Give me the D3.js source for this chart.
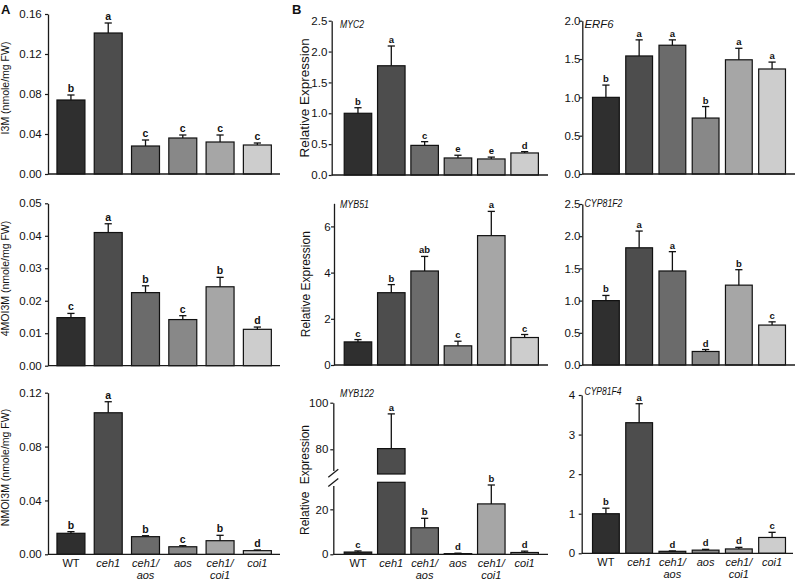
<!DOCTYPE html>
<html><head><meta charset="utf-8">
<script src="https://cdn.jsdelivr.net/npm/d3@7"></script>
<style>
body{margin:0;background:#fff}
svg{display:block}
text{font-family:"Liberation Sans",Arial,Helvetica,sans-serif;fill:#111}
</style>
</head><body>
<svg id="chart" width="800" height="580"></svg>
<script>
// ---------- data ----------
const categories = ["WT","ceh1","ceh1/aos","aos","ceh1/coi1","coi1"];
const categoryLines = [["WT"],["ceh1"],["ceh1/","aos"],["aos"],["ceh1/","coi1"],["coi1"]];
const categoryItalic = [false,true,true,true,true,true];
const barColors = ["#2f2f2f","#4d4d4d","#6b6b6b","#888888","#a6a6a6","#cdcdcd"];

const i3mValues = [0.074,0.141,0.028,0.036,0.032,0.029];
const i3mErrors = [0.005,0.010,0.006,0.003,0.007,0.002];
const i3mLetters = ["b","a","c","c","c","c"];
const i3mTicks = [0,0.04,0.08,0.12,0.16];

const moi4Values = [0.0148,0.0410,0.0225,0.0142,0.0243,0.0112];
const moi4Errors = [0.0013,0.0027,0.0021,0.0012,0.0029,0.0007];
const moi4Letters = ["c","a","b","c","b","d"];
const moi4Ticks = [0,0.01,0.02,0.03,0.04,0.05];

const nmoiValues = [0.0156,0.1051,0.0131,0.0056,0.0101,0.0027];
const nmoiErrors = [0.0012,0.0082,0.0007,0.0008,0.0040,0.0005];
const nmoiLetters = ["b","a","b","c","b","d"];
const nmoiTicks = [0,0.04,0.08,0.12];

const myc2Values = [1.0,1.77,0.48,0.276,0.26,0.357];
const myc2Errors = [0.09,0.32,0.06,0.044,0.03,0.021];
const myc2Letters = ["b","a","c","e","e","d"];
const myc2Ticks = [0,0.5,1.0,1.5,2.0,2.5];

const erf6Values = [1.0,1.54,1.68,0.73,1.49,1.37];
const erf6Errors = [0.16,0.21,0.07,0.15,0.15,0.09];
const erf6Letters = ["b","a","a","b","a","a"];
const erf6Ticks = [0,0.5,1.0,1.5,2.0];

const myb51Values = [1.0,3.13,4.07,0.83,5.60,1.19];
const myb51Errors = [0.1,0.35,0.63,0.2,1.05,0.13];
const myb51Letters = ["c","b","ab","c","a","c"];
const myb51Ticks = [0,2,4,6];

const cyp81f2Values = [1.0,1.82,1.46,0.21,1.24,0.62];
const cyp81f2Errors = [0.08,0.26,0.30,0.03,0.24,0.05];
const cyp81f2Letters = ["b","a","a","d","b","c"];
const cyp81f2Ticks = [0,0.5,1.0,1.5,2.0,2.5];

const myb122Values = [1.0,80.3,11.8,0.3,22.4,0.8];
const myb122Errors = [0.5,14.9,4.2,0.2,8.4,0.6];
const myb122Letters = ["c","a","b","d","b","d"];
const myb122LowTicks = [0,20];
const myb122HighTicks = [80,100];

const cyp81f4Values = [1.0,3.3,0.05,0.08,0.11,0.40];
const cyp81f4Errors = [0.14,0.48,0.01,0.02,0.04,0.13];
const cyp81f4Letters = ["b","a","d","d","d","c"];
const cyp81f4Ticks = [0,1,2,3,4];

// ---------- layout ----------
const svg = d3.select("#chart");
const FONT = '"Liberation Sans",Arial,Helvetica,sans-serif';

const panels = [
  {values:i3mValues, errors:i3mErrors, letters:i3mLetters, ticks:i3mTicks, fmt:".2f",
   domain:[0,0.16], yTop:14, yBot:174, ax:48, x1:280, band:[52.3,276], pi:0.25, gap:6.3,
   ylabel:"I3M (nmole/mg FW)", ylx:9, yls:10.5, lsize:10.5},
  {values:moi4Values, errors:moi4Errors, letters:moi4Letters, ticks:moi4Ticks, fmt:".2f",
   domain:[0,0.05], yTop:203.3, yBot:365.7, ax:48, x1:280, band:[52.3,276], pi:0.25, gap:6.3,
   ylabel:"4MOI3M (nmole/mg FW)", ylx:9, yls:10.5, lsize:10.5},
  {values:nmoiValues, errors:nmoiErrors, letters:nmoiLetters, ticks:nmoiTicks, fmt:".2f",
   domain:[0,0.12], yTop:392.7, yBot:554.3, ax:48, x1:280, band:[52.3,276], pi:0.25, gap:6.3,
   ylabel:"NMOI3M (nmole/mg FW)", ylx:9, yls:10.5, lsize:10.5, xlabels:true},
  {values:myc2Values, errors:myc2Errors, letters:myc2Letters, ticks:myc2Ticks, fmt:".1f",
   domain:[0,2.5], yTop:20.7, yBot:175, ax:331.7, x1:548, band:[341.3,541.3], pi:0.175, gap:4.4,
   ylabel:"Relative Expression", ylx:309, yls:13.5, lsize:9.5,
   gene:"MYC2", gx:340, gy:28.3, gw:24},
  {values:erf6Values, errors:erf6Errors, letters:erf6Letters, ticks:erf6Ticks, fmt:".1f",
   domain:[0,2.0], yTop:20.7, yBot:174, ax:582.3, x1:795, band:[589.3,788.7], pi:0.194, gap:1.8,
   lsize:9.5, gene:"ERF6", gx:584.5, gy:28.3, gw:29},
  {values:myb51Values, errors:myb51Errors, letters:myb51Letters, ticks:myb51Ticks, fmt:"d",
   domain:[0,7], yTop:203.3, yBot:365, ax:334, x1:548, band:[341.3,541.3], pi:0.175, gap:3.3,
   ylabel:"Relative Expression", ylx:309.5, yls:12, lsize:9.5,
   gene:"MYB51", gx:340, gy:208.3, gw:29},
  {values:cyp81f2Values, errors:cyp81f2Errors, letters:cyp81f2Letters, ticks:cyp81f2Ticks, fmt:".1f",
   domain:[0,2.5], yTop:204, yBot:365, ax:582.3, x1:795, band:[589.3,788.7], pi:0.194, gap:1.8,
   lsize:9.5, gene:"CYP81F2", gx:584.5, gy:206.7, gw:38},
  {values:cyp81f4Values, errors:cyp81f4Errors, letters:cyp81f4Letters, ticks:cyp81f4Ticks, fmt:"d",
   domain:[0,4], yTop:395, yBot:553.3, ax:581.7, x1:793, band:[589.3,788.7], pi:0.194, gap:6.5,
   lsize:9.5, gene:"CYP81F4", gx:584.5, gy:394.5, gw:37, xlabels:true}
];

const AXIS_COLOR = "#1a1a1a";

function styleAxis(g){
  g.select(".domain").attr("stroke",AXIS_COLOR).attr("stroke-width",1.3);
  g.selectAll(".tick line").attr("stroke",AXIS_COLOR).attr("stroke-width",1.2);
  g.selectAll(".tick text").attr("font-family",FONT).attr("font-size",11.5).attr("fill","#111");
}

function drawBars(g, x, yFor, baseY, values, errors, letters, lsize){
  values.forEach((v,i)=>{
    const cat = categories[i];
    const bx = x(cat), bw = x.bandwidth(), cx = bx + bw/2;
    yFor.bar(g, v, i, bx, bw);
    const yv = yFor.y(v), ye = yFor.y(v+errors[i]);
    g.append("line").attr("x1",cx).attr("x2",cx).attr("y1",yv).attr("y2",ye)
      .attr("stroke","#111").attr("stroke-width",1.3);
    g.append("line").attr("x1",cx-3.6).attr("x2",cx+3.6).attr("y1",ye).attr("y2",ye)
      .attr("stroke","#111").attr("stroke-width",1.3);
    g.append("text").attr("x",cx).attr("y",ye-3).attr("text-anchor","middle")
      .attr("font-size",lsize).attr("font-weight","bold").attr("fill","#222").text(letters[i]);
  });
}

function drawXLabels(g, x, baseY){
  categories.forEach((cat,i)=>{
    const cx = x(cat) + x.bandwidth()/2;
    categoryLines[i].forEach((ln,j)=>{
      g.append("text").attr("x",cx).attr("y",baseY+12.4+j*11.8).attr("text-anchor","middle")
        .attr("font-size",11).attr("font-style",categoryItalic[i]?"italic":"normal").text(ln);
    });
  });
}

function drawYLabel(g, text, x, yc, size, extra){
  const t = g.append("text").attr("transform",`translate(${x},${yc}) rotate(-90)`)
    .attr("text-anchor","middle").attr("font-size",size).text(text);
  if(extra) t.attr("word-spacing",extra);
}

function drawGene(g, p){
  g.append("text").attr("x",p.gx).attr("y",p.gy).attr("font-size",11.5).attr("font-style","italic")
    .attr("textLength",p.gw).attr("lengthAdjust","spacingAndGlyphs").text(p.gene);
}

panels.forEach(p=>{
  const g = svg.append("g");
  const x = d3.scaleBand().domain(categories).range(p.band).paddingInner(p.pi).paddingOuter(p.pi/2);
  const y = d3.scaleLinear().domain(p.domain).range([p.yBot,p.yTop]);
  const yFor = {
    y: y,
    bar: (gg, v, i, bx, bw) => gg.append("rect").attr("x",bx).attr("y",y(v)).attr("width",bw)
      .attr("height",y(0)-y(v)).attr("fill",barColors[i]).attr("stroke","#111").attr("stroke-width",1.2)
  };
  drawBars(g, x, yFor, p.yBot, p.values, p.errors, p.letters, p.lsize);
  const ag = g.append("g").attr("transform",`translate(${p.ax},0)`)
    .call(d3.axisLeft(y).tickValues(p.ticks).tickFormat(d3.format(p.fmt)).tickSize(3).tickSizeOuter(0).tickPadding(p.gap-3));
  styleAxis(ag);
  g.append("line").attr("x1",p.ax).attr("x2",p.x1).attr("y1",p.yBot).attr("y2",p.yBot)
    .attr("stroke",AXIS_COLOR).attr("stroke-width",1.3);
  if(p.ylabel) drawYLabel(g, p.ylabel, p.ylx, (p.yTop+p.yBot)/2 - (p.ylx<50?6:0), p.yls);
  if(p.gene) drawGene(g, p);
  if(p.xlabels) drawXLabels(g, x, p.yBot);
});

// ---------- MYB122 with broken axis ----------
(function(){
  const p = {ax:333.3, x1:548, band:[341.3,541.3], pi:0.175, yBot:554.3};
  const g = svg.append("g");
  const x = d3.scaleBand().domain(categories).range(p.band).paddingInner(p.pi).paddingOuter(p.pi/2);
  const yLow = d3.scaleLinear().domain([0,32]).range([554.3,482.3]);
  const yHigh = d3.scaleLinear().domain([69.4,100]).range([474,402.7]);
  const lowMax = 32, highMin = 69.4;
  const yf = v => v <= lowMax ? yLow(v) : yHigh(v);
  const yFor = {
    y: yf,
    bar: (gg, v, i, bx, bw) => {
      if(v <= lowMax){
        gg.append("rect").attr("x",bx).attr("y",yLow(v)).attr("width",bw).attr("height",yLow(0)-yLow(v))
          .attr("fill",barColors[i]).attr("stroke","#111").attr("stroke-width",1.2);
      } else {
        gg.append("rect").attr("x",bx).attr("y",yLow(lowMax)).attr("width",bw).attr("height",yLow(0)-yLow(lowMax))
          .attr("fill",barColors[i]).attr("stroke","#111").attr("stroke-width",1.2);
        gg.append("rect").attr("x",bx).attr("y",yHigh(v)).attr("width",bw).attr("height",yHigh(highMin)-yHigh(v))
          .attr("fill",barColors[i]).attr("stroke","#111").attr("stroke-width",1.2);
      }
    }
  };
  drawBars(g, x, yFor, p.yBot, myb122Values, myb122Errors, myb122Letters, 9.5);

  const lowAxis = d3.scaleLinear().domain([0,30.6]).range([554.3,485.5]);
  const highAxis = d3.scaleLinear().domain([70.9,100]).range([470.5,402.7]);
  const a1 = g.append("g").attr("transform",`translate(${p.ax},0)`)
    .call(d3.axisLeft(lowAxis).tickValues(myb122LowTicks).tickFormat(d3.format("d")).tickSize(3).tickSizeOuter(0).tickPadding(2));
  styleAxis(a1);
  const a2 = g.append("g").attr("transform",`translate(${p.ax},0)`)
    .call(d3.axisLeft(highAxis).tickValues(myb122HighTicks).tickFormat(d3.format("d")).tickSize(3).tickSizeOuter(0).tickPadding(2));
  styleAxis(a2);
  [473.3, 482.5].forEach(cy=>{
    g.append("line").attr("x1",p.ax-5).attr("x2",p.ax+5).attr("y1",cy+4).attr("y2",cy-4)
      .attr("stroke",AXIS_COLOR).attr("stroke-width",1.3);
  });
  g.append("line").attr("x1",p.ax).attr("x2",p.x1).attr("y1",p.yBot).attr("y2",p.yBot)
    .attr("stroke",AXIS_COLOR).attr("stroke-width",1.3);
  drawYLabel(g, "Relative Expression", 309, 480, 12, 4);
  drawGene(g, {gene:"MYB122", gx:340, gy:396.7, gw:34});
  drawXLabels(g, x, p.yBot);
})();

// panel letters
svg.append("text").attr("x",1).attr("y",13.5).attr("font-size",13).attr("font-weight","bold").text("A");
svg.append("text").attr("x",292).attr("y",13.5).attr("font-size",13).attr("font-weight","bold").text("B");
</script>
</body></html>
